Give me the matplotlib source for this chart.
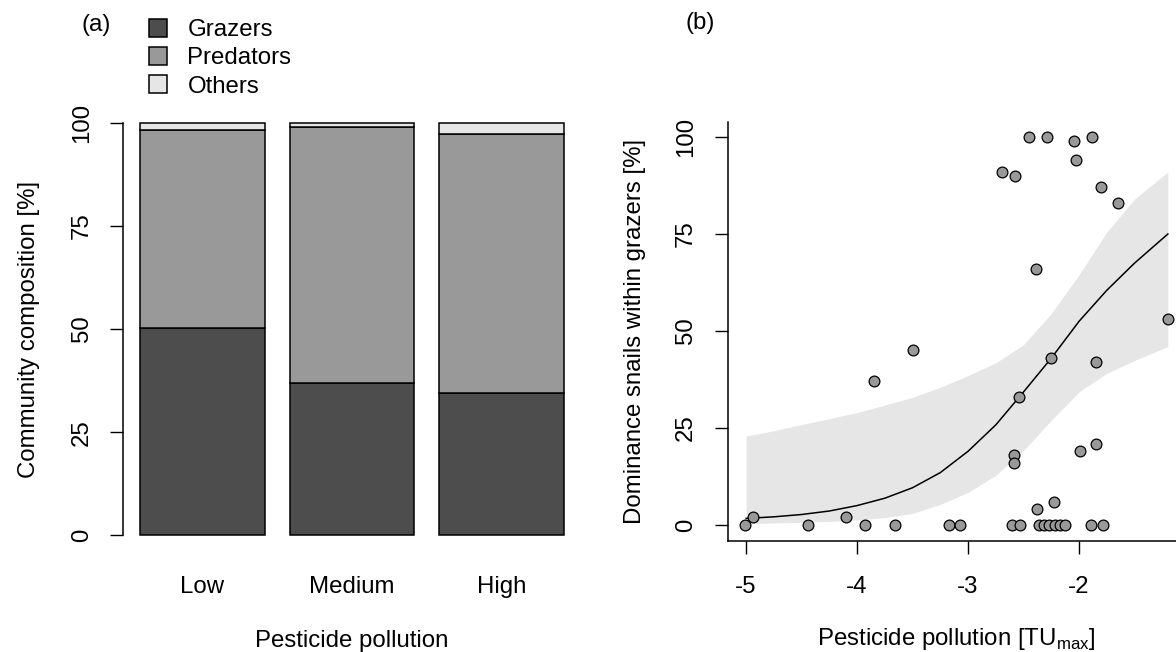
import numpy as np
import matplotlib
matplotlib.use('Agg')
import matplotlib.pyplot as plt
from matplotlib.patches import Patch

plt.rcParams['font.family'] = ['Liberation Sans', 'DejaVu Sans']
plt.rcParams['font.size'] = 17.3
plt.rcParams['mathtext.fontset'] = 'custom'
plt.rcParams['mathtext.rm'] = 'Liberation Sans'

# (a) community composition per pollution class
categories = ['Low', 'Medium', 'High']
grazers = np.array([50.2, 37.0, 34.6])
predators = np.array([47.9, 61.8, 62.7])
others = np.array([1.9, 1.2, 2.7])

# (b) share of snails within grazers vs. log toxic units
snail_x = [-2.45, -2.29, -2.05, -1.88, -2.03, -2.69, -2.58, -1.80, -1.65, -2.39,
           -1.20, -3.50, -2.25, -1.85, -3.85, -2.54, -1.85, -1.99, -2.59, -2.59,
           -2.23, -2.38, -4.94, -4.10,
           -5.01, -4.44, -3.93, -3.66, -3.17, -3.07, -2.60, -2.53, -2.36, -2.32,
           -2.27, -2.22, -2.17, -2.13, -1.89, -1.78]
snail_y = [100, 100, 99, 100, 94, 91, 90, 87, 83, 66,
           53, 45, 43, 42, 37, 33, 21, 19, 18, 16,
           6, 4, 2, 2,
           0, 0, 0, 0, 0, 0, 0, 0, 0, 0,
           0, 0, 0, 0, 0, 0]

# fitted model with confidence band
fit_x = [-5.0, -4.75, -4.5, -4.25, -4.0, -3.75, -3.5, -3.25, -3.0, -2.75,
         -2.5, -2.25, -2.0, -1.75, -1.5, -1.2]
fit_y = [1.7, 2.1, 2.7, 3.6, 5.0, 6.9, 9.6, 13.5, 19.0, 25.8,
         34.3, 43.0, 52.5, 60.5, 67.5, 75.0]
fit_lo = [0.3, 0.5, 0.7, 0.9, 1.3, 1.9, 3.0, 5.3, 8.4, 12.8,
          19.2, 27.0, 34.3, 39.1, 42.4, 46.0]
fit_hi = [22.9, 24.3, 25.9, 27.4, 29.0, 30.9, 32.9, 35.5, 38.5, 41.8,
          46.5, 54.5, 64.5, 75.5, 84.0, 91.0]

W, H = 1176, 652
fig = plt.figure(figsize=(W / 100, H / 100), dpi=100)

def px_axes(x0, x1, y_top, y_bot):
    return fig.add_axes([x0 / W, 1 - y_bot / H, (x1 - x0) / W, (y_bot - y_top) / H])

tick_kw = dict(length=9.4, width=1.0, direction='out')

# ---- panel (a)
ax1 = px_axes(123.2, 580.8, 106, 552)
pos = np.array([0.7, 1.9, 3.1])
bar_kw = dict(width=1.0, edgecolor='black', linewidth=1.1)
ax1.bar(pos, grazers, color='#4d4d4d', **bar_kw)
ax1.bar(pos, predators, bottom=grazers, color='#999999', **bar_kw)
ax1.bar(pos, others, bottom=grazers + predators, color='#e6e6e6', **bar_kw)
ax1.set_xlim(0.064, 3.736)
ax1.set_ylim(-4, 104)
for s in ['top', 'right', 'bottom']:
    ax1.spines[s].set_visible(False)
ax1.spines['left'].set_bounds(0, 100)
ax1.spines['left'].set_linewidth(1.1)
ax1.set_yticks([0, 25, 50, 75, 100])
ax1.set_yticklabels(['0', '25', '50', '75', '100'], rotation=90, va='center')
ax1.tick_params(axis='y', pad=12.5, **tick_kw)
ax1.set_xticks(pos)
ax1.set_xticklabels(categories)
ax1.tick_params(axis='x', length=0, pad=17)
ax1.set_ylabel('Community composition [%]', labelpad=22)
ax1.set_xlabel('Pesticide pollution', labelpad=23)

handles = [Patch(facecolor=c, edgecolor='black', linewidth=1.1, label=l)
           for c, l in zip(['#4d4d4d', '#999999', '#e6e6e6'], ['Grazers', 'Predators', 'Others'])]
fig.legend(handles=handles, loc='upper left', bbox_to_anchor=(149 / W, 1 - 19 / H),
           frameon=False, borderpad=0, borderaxespad=0, handlelength=0.75,
           handleheight=0.75, handletextpad=0.85, labelspacing=0.25)
fig.text(96 / W, 1 - 25 / H, '(a)', ha='center', va='center')

# ---- panel (b)
ax2 = px_axes(728.3, 1184.5, 121.5, 540.5)
ax2.fill_between(fit_x, fit_lo, fit_hi, color='#e6e6e6', linewidth=0)
ax2.plot(fit_x, fit_y, color='black', linewidth=1.1)
ax2.scatter(snail_x, snail_y, s=60, c='#999999', edgecolors='black', linewidths=0.9, zorder=3)
ax2.set_xlim(-5.16, -1.05)
ax2.set_ylim(-4, 104)
for s in ['top', 'right']:
    ax2.spines[s].set_visible(False)
for s in ['left', 'bottom']:
    ax2.spines[s].set_linewidth(1.1)
ax2.set_xticks([-5, -4, -3, -2])
ax2.set_xticklabels(['-5', '-4', '-3', '-2'])
ax2.set_yticks([0, 25, 50, 75, 100])
ax2.set_yticklabels(['0', '25', '50', '75', '100'], rotation=90, va='center')
ax2.tick_params(axis='x', pad=16, **tick_kw)
ax2.tick_params(axis='y', pad=13, **tick_kw)
ax2.set_ylabel('Dominance snails within grazers [%]', labelpad=21)
ax2.set_xlabel(r'Pesticide pollution [TU$_{\mathregular{max}}$]', labelpad=20)
fig.text(700 / W, 1 - 23 / H, '(b)', ha='center', va='center')

fig.savefig('out.png', dpi=100)
